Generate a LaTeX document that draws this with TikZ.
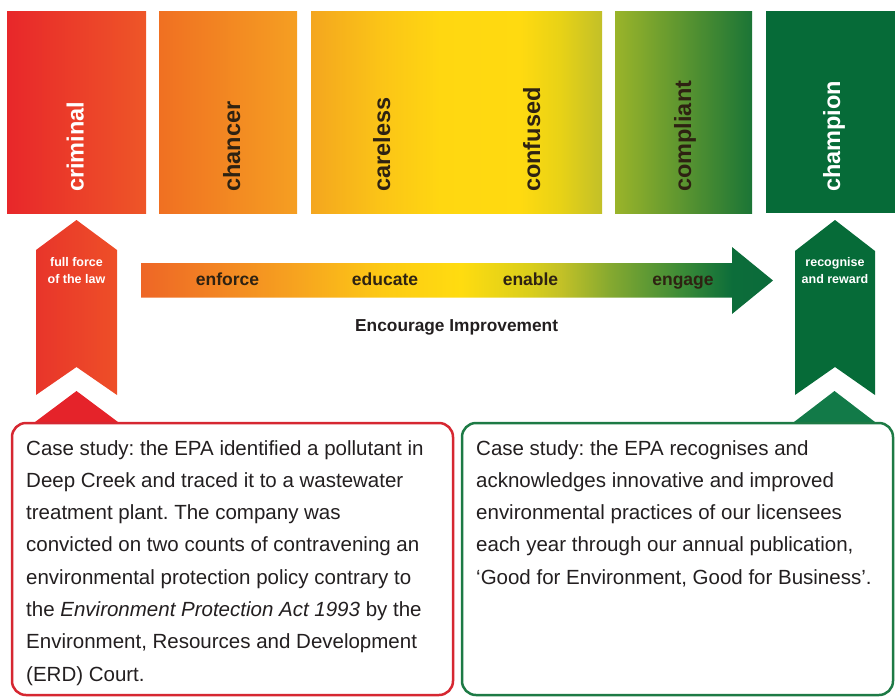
\documentclass[tikz,border=0pt]{standalone}
\usepackage{fontspec}
\setmainfont{Liberation Sans}
\frenchspacing
\definecolor{crimL}{HTML}{E8272A}
\definecolor{crimR}{HTML}{EE5628}
\definecolor{chanL}{HTML}{F07022}
\definecolor{chanR}{HTML}{F59F22}
\definecolor{compL}{HTML}{9AB42A}
\definecolor{compR}{HTML}{1B7536}
\definecolor{champ}{HTML}{066B38}
\definecolor{chevL}{HTML}{E8352A}
\definecolor{chevR}{HTML}{EE4F28}
\definecolor{redtri}{HTML}{E5232A}
\definecolor{greentri}{HTML}{127A48}
\definecolor{boxred}{HTML}{D62731}
\definecolor{boxgreen}{HTML}{1D7A45}
\definecolor{labdark}{HTML}{2E2212}
\definecolor{textdark}{HTML}{231F20}
\definecolor{cc0}{HTML}{F4A61F}
\definecolor{cc1}{HTML}{FBC417}
\definecolor{cc2}{HTML}{FFD711}
\definecolor{cc3}{HTML}{FFDA10}
\definecolor{cc4}{HTML}{E8D216}
\definecolor{cc5}{HTML}{C2C028}
\definecolor{ar0}{HTML}{EE6626}
\definecolor{ar1}{HTML}{F38A22}
\definecolor{ar2}{HTML}{F7A51F}
\definecolor{ar3}{HTML}{FDCB14}
\definecolor{ar4}{HTML}{FFDC10}
\definecolor{ar5}{HTML}{D9CE1B}
\definecolor{ar6}{HTML}{C3C127}
\definecolor{ar7}{HTML}{85A930}
\definecolor{ar8}{HTML}{3A8A37}
\definecolor{ar9}{HTML}{0C6D3A}
\definecolor{ar10}{HTML}{0B6B3A}
\pgfdeclarehorizontalshading{ccshade}{100bp}{color(0bp)=(cc0); color(25bp)=(cc0); color(36.9bp)=(cc1); color(47.2bp)=(cc2); color(60.9bp)=(cc3); color(67.8bp)=(cc4); color(75bp)=(cc5); color(100bp)=(cc5)}
\pgfdeclarehorizontalshading{arrowshade}{100bp}{color(0bp)=(ar0); color(25bp)=(ar0); color(32.1bp)=(ar1); color(37.6bp)=(ar2); color(44.4bp)=(ar3); color(50.3bp)=(ar4); color(55.8bp)=(ar5); color(58.2bp)=(ar6); color(62.1bp)=(ar7); color(67.9bp)=(ar8); color(71.8bp)=(ar9); color(75bp)=(ar10); color(100bp)=(ar10)}
\begin{document}
\begin{tikzpicture}[x=1pt,y=-1pt,
  topbox/.style={inner sep=0pt, outer sep=0pt, minimum height=202pt},
  vlab/.style={font=\fontsize{23.5}{23.5}\selectfont\bfseries, inner sep=0pt, rotate=90, anchor=base west},
  hlab/.style={font=\fontsize{17.5}{17.5}\selectfont\bfseries, text=labdark, inner sep=0pt, anchor=base},
  chevlab/.style={font=\fontsize{12.5}{16.6}\selectfont\bfseries, text=white, inner sep=0pt, align=center, anchor=north},
  casebox/.style={line width=2.5pt, rounded corners=14pt, fill=white},
  casetext/.style={font=\fontsize{20.5}{32.3}\selectfont, text=textdark, inner sep=0pt, align=left, anchor=north west}
]
\useasboundingbox (0,0) rectangle (895,697);

% top category boxes
\node[topbox, left color=crimL, right color=crimR, minimum width=139pt] (bcrim) at (76.5,112) {};
\node[topbox, left color=chanL, right color=chanR, minimum width=138pt] (bchan) at (228,112) {};
\node[topbox, shade, shading=ccshade, minimum width=291pt] (bcare) at (456.5,112) {};
\node[topbox, left color=compL, right color=compR, minimum width=137pt] (bcomp) at (683.5,112) {};
\node[topbox, fill=champ, minimum width=129pt] (bchamp) at (830.5,112) {};

\node[vlab, text=white] (tcrim) at (83.5,192) {criminal};
\node[vlab, text=labdark] (tchan) at (240,192) {chancer};
\node[vlab, text=labdark] (tcare) at (390,192) {careless};
\node[vlab, text=labdark] (tconf) at (540,192) {confused};
\node[vlab, text=labdark] (tcomp) at (691,192) {compliant};
\node[vlab, text=white] (tchamp) at (840,192) {champion};

% left chevron
\shade[left color=chevL, right color=chevR] (76.5,220) -- (117,250) -- (117,395) -- (76.5,367) -- (36,395) -- (36,250) -- cycle;
\fill[redtri] (76.5,391) -- (118,422) -- (35,422) -- cycle;
\node[chevlab] (tforce) at (76.5,257.5) {full force\\of the law};

% right chevron
\fill[champ] (835,220) -- (875,251) -- (875,395) -- (835,367) -- (795,395) -- (795,251) -- cycle;
\fill[greentri] (834.5,391) -- (875,422) -- (794,422) -- cycle;
\node[chevlab] (treward) at (835,257.5) {recognise\\and reward};

% big horizontal arrow
\shade[shading=arrowshade] (141,263) -- (732,263) -- (732,247) -- (773,280.5) -- (732,314) -- (732,297.5) -- (141,297.5) -- cycle;
\node[hlab] (tenf) at (227.5,285) {enforce};
\node[hlab] (tedu) at (385,285) {educate};
\node[hlab] (tena) at (530.5,285) {enable};
\node[hlab] (teng) at (683,285) {engage};
\node[font=\fontsize{17.3}{17.3}\selectfont\bfseries, text=textdark, inner sep=0pt, anchor=base west] (tenc) at (355,331.5) {Encourage Improvement};

% case study boxes
\draw[casebox, draw=boxred] (12,423) rectangle (453,695);
\draw[casebox, draw=boxgreen] (462,423) rectangle (893,695);

\node[casetext] (lcase) at (26,440) {Case study: the EPA identified a pollutant in\\
Deep Creek and traced it to a wastewater\\
treatment plant. The company was\\
convicted on two counts of contravening an\\
environmental protection policy contrary to\\
the \textit{Environment Protection Act 1993} by the\\
Environment, Resources and Development\\
(ERD) Court.};

\node[casetext] (rcase) at (476,440) {Case study: the EPA recognises and\\
acknowledges innovative and improved\\
environmental practices of our licensees\\
each year through our annual publication,\\
‘Good for Environment, Good for Business’.};
\end{tikzpicture}
\end{document}
